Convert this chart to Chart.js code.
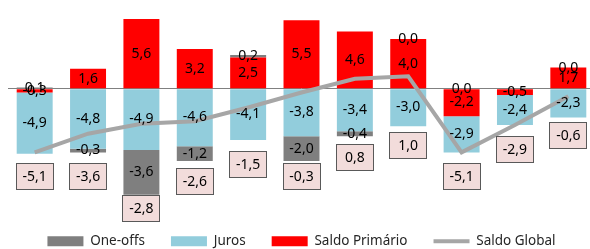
<!DOCTYPE html>
<html>
<head>
<meta charset="utf-8">
<script src="https://cdn.jsdelivr.net/npm/chart.js@4.4.0/dist/chart.umd.min.js"></script>
<style>
    html, body { margin: 0; padding: 0; background: #fff; overflow: hidden; }
    #wrap { width: 603px; height: 249px; }
</style>
</head>
<body>
<div id="wrap"><canvas id="myChart" width="603" height="249"></canvas></div>
<script>
const categories = ['1', '2', '3', '4', '5', '6', '7', '8', '9', '10', '11'];
const oneOffs = [0.1, -0.3, -3.6, -1.2, 0.2, -2.0, -0.4, 0.0, 0.0, null, 0.0];
const juros = [-4.9, -4.8, -4.9, -4.6, -4.1, -3.8, -3.4, -3.0, -2.9, -2.4, -2.3];
const saldoPrimario = [-0.3, 1.6, 5.6, 3.2, 2.5, 5.5, 4.6, 4.0, -2.2, -0.5, 1.7];
const saldoGlobal = [-5.1, -3.6, -2.8, -2.6, -1.5, -0.3, 0.8, 1.0, -5.1, -2.9, -0.6];

// how far (px) each Saldo Global box sits below the bottom of its bar stack
const boxDrop = [22, 24, 13, 20, 24, 15, 21, 19, 24, 24, 18];
const legendOrder = ['One-offs', 'Juros', 'Saldo Primário', 'Saldo Global'];

const fmt = v => v.toFixed(1).replace('.', ',');

const labelPlugin = {
    id: 'barLabels',
    afterDatasetsDraw(chart) {
        const ctx = chart.ctx;
        const xs = chart.scales.x;
        const ys = chart.scales.y;
        ctx.save();
        ctx.font = '14px "Noto Sans"';
        ctx.textAlign = 'center';
        ctx.textBaseline = 'middle';
        categories.forEach((c, i) => {
            const cx = xs.getPixelForValue(i);
            let top = 0;
            let bottom = 0;
            // same stacking order as the bars
            [saldoPrimario, juros, oneOffs].forEach(series => {
                const v = series[i];
                if (v === null) return;
                let from, to;
                if (v >= 0) { from = top; to = top + v; top = to; }
                else { from = bottom; to = bottom + v; bottom = to; }
                ctx.fillStyle = '#000';
                ctx.fillText(fmt(v), cx, ys.getPixelForValue((from + to) / 2));
            });

            // boxed Saldo Global value
            const by = Math.round(ys.getPixelForValue(bottom) + boxDrop[i]);
            const bx = Math.round(cx - 19);
            ctx.fillStyle = '#f2dcdb';
            ctx.fillRect(bx, by - 13, 38, 27);
            ctx.strokeStyle = '#595959';
            ctx.lineWidth = 1;
            ctx.strokeRect(bx + 0.5, by - 12.5, 37, 26);
            ctx.fillStyle = '#000';
            ctx.fillText(fmt(saldoGlobal[i]), cx, by + 1);
        });
        ctx.restore();
    }
};

const ctx = document.getElementById('myChart').getContext('2d');
new Chart(ctx, {
    type: 'bar',
    data: {
        labels: categories,
        datasets: [
            { label: 'Saldo Primário', data: saldoPrimario, backgroundColor: '#ff0000' },
            { label: 'Juros', data: juros, backgroundColor: '#92cddc' },
            { label: 'One-offs', data: oneOffs, backgroundColor: '#7f7f7f' },
            {
                type: 'line', label: 'Saldo Global', data: saldoGlobal,
                borderColor: '#a6a6a6', backgroundColor: '#a6a6a6',
                borderWidth: 4, pointRadius: 0, tension: 0, order: -1
            }
        ]
    },
    options: {
        responsive: false,
        animation: false,
        layout: { padding: { left: 8, right: 8, top: 1.5, bottom: -9 } },
        datasets: {
            bar: { categoryPercentage: 1, barPercentage: 0.674, borderWidth: 0 }
        },
        scales: {
            x: { display: false, stacked: true },
            y: {
                stacked: true,
                min: -9.6,
                max: 7,
                border: { display: false },
                ticks: { display: false, stepSize: 1 },
                grid: {
                    drawTicks: false,
                    color: c => (c.tick && c.tick.value === 0) ? '#808080' : 'rgba(0,0,0,0)'
                }
            }
        },
        plugins: {
            tooltip: { enabled: false },
            legend: {
                position: 'bottom',
                labels: {
                    usePointStyle: true,
                    pointStyleWidth: 36,
                    boxHeight: 10,
                    padding: 26,
                    color: '#262626',
                    font: { family: 'Noto Sans', size: 13.5 },
                    generateLabels(chart) {
                        const items = Chart.defaults.plugins.legend.labels.generateLabels(chart);
                        items.forEach(it => {
                            if (it.text === 'Saldo Global') {
                                it.pointStyle = 'line';
                                it.strokeStyle = '#a6a6a6';
                                it.lineWidth = 4;
                            } else {
                                it.pointStyle = 'rect';
                                it.lineWidth = 0;
                            }
                        });
                        return items;
                    },
                    sort: (a, b) => legendOrder.indexOf(a.text) - legendOrder.indexOf(b.text)
                }
            }
        }
    },
    plugins: [labelPlugin]
});
</script>
</body>
</html>
